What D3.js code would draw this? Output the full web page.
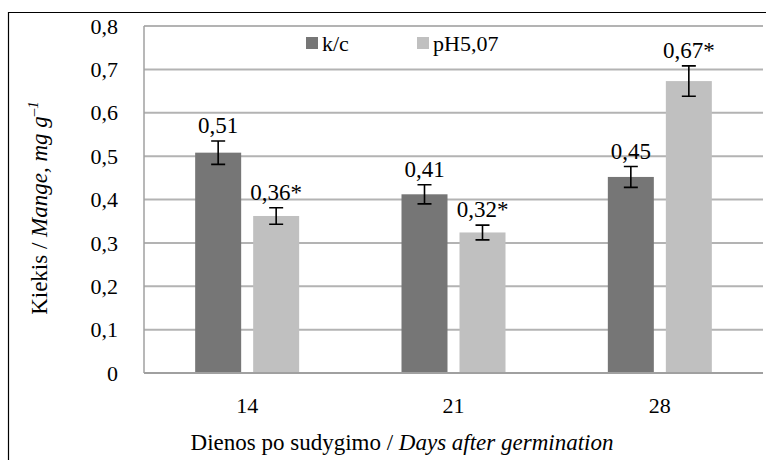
<!DOCTYPE html>
<html>
<head>
<meta charset="utf-8">
<script src="https://cdn.jsdelivr.net/npm/d3@7"></script>
<style>
  body { margin: 0; background: #fff; font-family: "Liberation Serif", "Times New Roman", serif; }
  svg text { font-family: "Liberation Serif", "Times New Roman", serif; }
</style>
</head>
<body>
<svg width="0" height="0" style="position:absolute;left:-2000px;top:-2000px"><text x="0" y="20" font-family="Liberation Serif" font-size="20">0,51 <tspan font-style="italic">Days</tspan></text></svg>
<div id="fig"></div>
<script>
const days = ["14", "21", "28"];
const series = ["k/c", "pH5,07"];
const kc = [0.508, 0.412, 0.452];
const ph = [0.362, 0.324, 0.673];
const kcErr = [0.027, 0.022, 0.024];
const phErr = [0.019, 0.017, 0.035];
const kcLabels = ["0,51", "0,41", "0,45"];
const phLabels = ["0,36*", "0,32*", "0,67*"];
const yTicks = [0, 0.1, 0.2, 0.3, 0.4, 0.5, 0.6, 0.7, 0.8];

const colors = {"k/c": "#767676", "pH5,07": "#c0c0c0"};
const fam = "Liberation Serif";

const dims = {width: 766, height: 460, left: 144, right: 763, top: 26, bottom: 373};

const svg = d3.select("#fig")
    .append("svg")
    .attr("width", dims.width)
    .attr("height", dims.height)
    .attr("font-family", fam);

// frame of the cropped figure
svg.append("path")
    .attr("d", `M8.5,${dims.height} V12.5 H${dims.width}`)
    .attr("fill", "none")
    .attr("stroke", "#000")
    .attr("stroke-width", 1.2);

const y = d3.scaleLinear().domain([0, 0.8]).range([dims.bottom, dims.top]);
const x0 = d3.scaleBand().domain(days).range([dims.left, dims.right]);
const x1 = d3.scaleBand().domain(series).range([0, 104]).paddingInner(12 / 58);

const data = days.map((d, i) => ({
    day: d,
    bars: [
        {s: "k/c", v: kc[i], e: kcErr[i], label: kcLabels[i]},
        {s: "pH5,07", v: ph[i], e: phErr[i], label: phLabels[i]}
    ]
}));

// gridlines
svg.append("g")
    .selectAll("line")
    .data(yTicks.slice(1))
    .join("line")
    .attr("x1", dims.left)
    .attr("x2", dims.right)
    .attr("y1", d => y(d))
    .attr("y2", d => y(d))
    .attr("stroke", "#b3b3b3")
    .attr("stroke-width", 2);

// y axis line
svg.append("line")
    .attr("x1", dims.left).attr("x2", dims.left)
    .attr("y1", dims.top).attr("y2", dims.bottom)
    .attr("stroke", "#a0a0a0")
    .attr("stroke-width", 1.5);

// y tick labels
svg.append("g")
    .selectAll("text")
    .data(yTicks)
    .join("text")
    .attr("x", 118)
    .attr("y", d => y(d))
    .attr("dy", "0.35em")
    .attr("font-size", 22)
    .attr("text-anchor", "end")
    .text(d => d3.format(".1f")(d).replace(".", ",").replace(/^0,0$/, "0"));

const groups = svg.append("g")
    .selectAll("g")
    .data(data)
    .join("g")
    .attr("transform", d => `translate(${x0(d.day) + x0.bandwidth() / 2 - 52},0)`);

const bars = groups.selectAll("g")
    .data(d => d.bars)
    .join("g");

bars.append("rect")
    .attr("x", d => x1(d.s))
    .attr("width", x1.bandwidth())
    .attr("y", d => y(d.v))
    .attr("height", d => y(0) - y(d.v))
    .attr("fill", d => colors[d.s]);

// error bars
const cx = d => x1(d.s) + x1.bandwidth() / 2;
bars.append("path")
    .attr("d", d => {
        const t = y(d.v + d.e), b = y(d.v - d.e), c = cx(d);
        return `M${c - 7},${t} H${c + 7} M${c},${t} V${b} M${c - 7},${b} H${c + 7}`;
    })
    .attr("fill", "none")
    .attr("stroke", "#000")
    .attr("stroke-width", 1.6);

bars.append("text")
    .attr("x", cx)
    .attr("y", d => y(d.v + d.e) - 8)
    .attr("font-size", 23)
    .attr("text-anchor", "middle")
    .text(d => d.label);

// x axis line
svg.append("line")
    .attr("x1", dims.left).attr("x2", dims.right)
    .attr("y1", dims.bottom).attr("y2", dims.bottom)
    .attr("stroke", "#a0a0a0")
    .attr("stroke-width", 2);

// x tick labels
svg.append("g")
    .selectAll("text")
    .data(days)
    .join("text")
    .attr("x", d => x0(d) + x0.bandwidth() / 2)
    .attr("y", 413)
    .attr("font-size", 22)
    .attr("text-anchor", "middle")
    .text(d => d);

// x axis title
const xt = svg.append("text")
    .attr("x", 402)
    .attr("y", 450)
    .attr("font-size", 23)
    .attr("text-anchor", "middle");
xt.append("tspan").text("Dienos po sudygimo / ");
xt.append("tspan").attr("font-style", "italic").text("Days after germination");

// y axis title
const yt = svg.append("text")
    .attr("transform", "translate(47,208) rotate(-90)")
    .attr("font-size", 23)
    .attr("text-anchor", "middle");
yt.append("tspan").text("Kiekis  / ");
yt.append("tspan").attr("font-style", "italic").text("Mange, mg g");
yt.append("tspan").attr("font-style", "italic").attr("font-size", 15)
    .attr("dy", -9).text("–1");

// legend
const legend = svg.append("g")
    .selectAll("g")
    .data(series)
    .join("g")
    .attr("transform", (d, i) => `translate(${[306, 417][i]},37)`);
legend.append("rect")
    .attr("width", 12).attr("height", 12)
    .attr("fill", d => colors[d]);
legend.append("text")
    .attr("x", 16)
    .attr("y", 6)
    .attr("dy", "0.35em")
    .attr("font-size", 22)
    .text(d => d);
</script>
</body>
</html>
